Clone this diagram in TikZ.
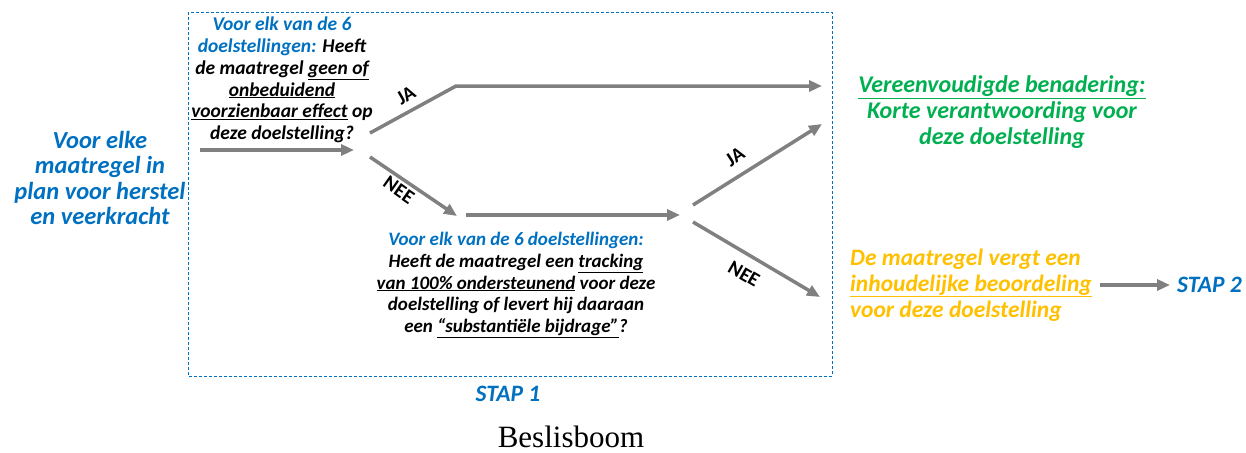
\documentclass[tikz,border=0pt]{standalone}
\usepackage{fontspec}
\setmainfont{Carlito}
\newfontfamily\capfont{Liberation Serif}
\usetikzlibrary{arrows.meta}
\definecolor{ublue}{HTML}{0070C0}
\definecolor{ugreen}{HTML}{00B050}
\definecolor{uorange}{HTML}{FFC000}
\definecolor{ugray}{HTML}{808080}
\tikzset{
  txt/.style={inner sep=0pt, align=center, font={\fontsize{19.5}{21.8}\selectfont\bfseries\itshape}},
  bigtxt/.style={inner sep=0pt, align=center, font={\fontsize{24.5}{25.5}\selectfont\bfseries\itshape}},
  restxt/.style={inner sep=0pt, font={\fontsize{23.5}{25.8}\selectfont\bfseries\itshape}},
  lbl/.style={inner sep=0pt, font={\fontsize{20}{22}\selectfont\bfseries}},
  arr/.style={draw=ugray, line width=3.5pt, -{Triangle[length=13pt,width=11pt]}},
}
\begin{document}
\begin{tikzpicture}[x=1pt,y=-1pt]
\useasboundingbox (0,0) rectangle (1246,452);
% dashed frame
\draw[ublue, line width=0.8pt, dash pattern=on 3pt off 2pt] (188,12) rectangle (832,376);
% left text
\node[bigtxt, text=ublue] (start) at (100,178) {Voor elke\\maatregel in\\plan voor herstel\\en veerkracht};
% top question
\node[txt] (q1) at (282,80) {\textcolor{ublue}{Voor elk van de 6}\\\textcolor{ublue}{doelstellingen:} Heeft\\de maatregel \underline{geen of}\\\underline{onbeduidend}\\\underline{voorzienbaar effect} op\\deze doelstelling?};
% lower question
\node[txt, font={\fontsize{19}{21.8}\selectfont\bfseries\itshape}] (q2) at (516,285) {\textcolor{ublue}{Voor elk van de 6 doelstellingen:}\\Heeft de maatregel een \underline{tracking}\\\underline{van 100\% ondersteunend} voor deze\\doelstelling of levert hij daaraan\\een \underline{“substantiële bijdrage”}?};
% green result
\node[restxt, align=center, text=ugreen, font={\fontsize{24}{26}\selectfont\bfseries\itshape}] (res1) at (1002,112) {\underline{Vereenvoudigde benadering:}\\Korte verantwoording voor\\deze doelstelling};
% orange result
\node[restxt, text=uorange, align=left, anchor=west] (res2) at (850,285) {De maatregel vergt een\\\underline{inhoudelijke beoordeling}\\voor deze doelstelling};
\node[restxt, text=ublue, anchor=west] (stap2) at (1177,285) {STAP 2};
\node[restxt, text=ublue] (stap1) at (508,394) {STAP 1};
\node[inner sep=0pt, font={\capfont\fontsize{31}{34}\selectfont}] (cap) at (571,437) {Beslisboom};
% coordinates
\coordinate (a0) at (200,150);
\coordinate (a1) at (354,150);
\coordinate (b0) at (370,133);
\coordinate (b1) at (456,86);
\coordinate (b2) at (822,86);
\coordinate (c0) at (370,157);
\coordinate (c1) at (457,216);
\coordinate (d0) at (466,215);
\coordinate (d1) at (680,215);
\coordinate (e0) at (693,205);
\coordinate (e1) at (822,124);
\coordinate (f0) at (693,222);
\coordinate (f1) at (820,297);
\coordinate (g0) at (1100,285);
\coordinate (g1) at (1170,285);
% arrows
\draw[arr] (a0) -- (a1);
\draw[arr] (b0) -- (b1) -- (b2);
\draw[arr] (c0) -- (c1);
\draw[arr] (d0) -- (d1);
\draw[arr] (e0) -- (e1);
\draw[arr] (f0) -- (f1);
\draw[arr] (g0) -- (g1);
% labels
\node[lbl, rotate=30] (ja1) at (406,95) {JA};
\node[lbl, rotate=-35] (nee1) at (399,190) {NEE};
\node[lbl, rotate=33] (ja2) at (735,157) {JA};
\node[lbl, rotate=-30] (nee2) at (744,274) {NEE};
\end{tikzpicture}
\end{document}
